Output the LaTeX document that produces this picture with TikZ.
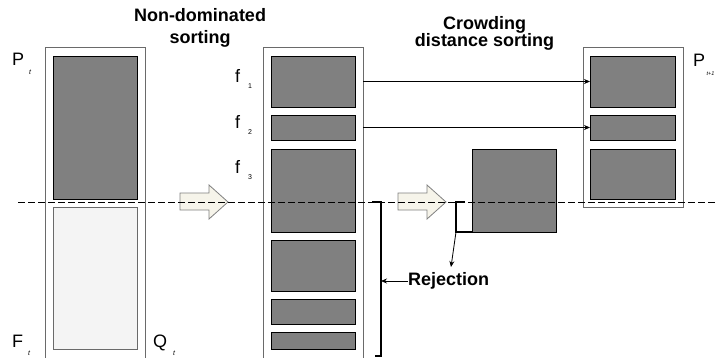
\documentclass[tikz,border=0pt]{standalone}
\usepackage{fontspec}
\setmainfont{Liberation Sans}
\usetikzlibrary{arrows.meta}
\definecolor{darkfill}{HTML}{808080}
\definecolor{lightfill}{HTML}{F4F4F4}
\definecolor{boxline}{HTML}{6A6A6A}
\definecolor{arrowfill}{HTML}{F6F4EA}
\definecolor{arrowline}{HTML}{808080}
\newcommand{\subf}[1]{{\fontsize{7}{7}\selectfont\itshape #1}}
\begin{document}
\begin{tikzpicture}[x=1pt,y=-1pt,
  rbox/.style={anchor=north west, inner sep=0pt, outer sep=0pt},
  outerbox/.style={rbox, draw=boxline, line width=0.9pt, fill=white},
  darkrect/.style={rbox, draw=black, line width=0.8pt, fill=darkfill},
  lightrect/.style={rbox, draw=boxline, line width=0.8pt, fill=lightfill},
  title/.style={font=\fontsize{18}{22}\selectfont\bfseries, align=center, inner sep=0pt},
  lbl/.style={font=\fontsize{18}{18}\selectfont, inner sep=0pt, anchor=base west},
  fat/.style={draw=arrowline, fill=arrowfill, line width=0.8pt, line join=miter},
  cut/.style={line width=0.9pt, dash pattern=on 6.5pt off 3.5pt},
  bracket/.style={line width=1.3pt},
  conn/.style={line width=0.8pt, -{Stealth[length=6pt,width=5pt]}}
]
\useasboundingbox (0,0) rectangle (715,357);
\clip (0,0) rectangle (715,357);

% left column
\node[outerbox, minimum width=100pt, minimum height=318pt] (lbox) at (45,47) {};
\node[darkrect, minimum width=84pt, minimum height=143pt] (lp) at (53,56) {};
\node[lightrect, minimum width=84pt, minimum height=142pt] (lq) at (53,207) {};

% middle column
\node[outerbox, minimum width=100pt, minimum height=318pt] (mbox) at (263,47) {};
\node[darkrect, minimum width=84pt, minimum height=51pt] (m1) at (271,56) {};
\node[darkrect, minimum width=84pt, minimum height=25pt] (m2) at (271,115) {};
\node[darkrect, minimum width=84pt, minimum height=83pt] (m3) at (271,149) {};
\node[darkrect, minimum width=84pt, minimum height=51pt] (m4) at (271,240) {};
\node[darkrect, minimum width=84pt, minimum height=25pt] (m5) at (271,299) {};
\node[darkrect, minimum width=84pt, minimum height=17pt] (m6) at (271,332) {};

% rejected front part
\node[darkrect, minimum width=84pt, minimum height=83pt] (cr) at (472,149) {};

% right column
\node[outerbox, minimum width=100pt, minimum height=160pt] (rbox) at (583,47) {};
\node[darkrect, minimum width=85pt, minimum height=51pt] (r1) at (590,56) {};
\node[darkrect, minimum width=85pt, minimum height=25pt] (r2) at (590,115) {};
\node[darkrect, minimum width=85pt, minimum height=50pt] (r3) at (590,149) {};

% fat arrows
\draw[fat] (180,193) -- (209,193) -- (209,185) -- (228,202) -- (209,219) -- (209,210) -- (180,210) -- cycle;
\draw[fat] (398,193) -- (427,193) -- (427,185) -- (446,202) -- (427,219) -- (427,210) -- (398,210) -- cycle;

% titles
\node[title, anchor=north] (t1) at (200,8) {Non-dominated\\sorting};
\node[title, anchor=north, font=\fontsize{18}{17.5}\selectfont\bfseries] (t2) at (484.5,16) {Crowding\\distance sorting};

% labels
\node[lbl] (Pt) at (12,65) {P\hspace{5pt}\raisebox{-9pt}{\subf{t}}};
\node[lbl] (Ft) at (12,347) {F\hspace{5pt}\raisebox{-8pt}{\subf{t}}};
\node[lbl] (Qt) at (153,347) {Q\hspace{6pt}\raisebox{-8pt}{\subf{t}}};
\node[lbl] (f1) at (235,82) {f\hspace{8pt}\raisebox{-6pt}{\fontsize{7}{7}\selectfont 1}};
\node[lbl] (f2) at (235,128) {f\hspace{8pt}\raisebox{-6pt}{\fontsize{7}{7}\selectfont 2}};
\node[lbl] (f3) at (235,173) {f\hspace{8pt}\raisebox{-6pt}{\fontsize{7}{7}\selectfont 3}};
\node[lbl] (Pt1) at (693,66) {P\hspace{1.5pt}\raisebox{-9pt}{{\fontsize{5.5}{6}\selectfont\itshape t+1}}};

% connectors to next population
\draw[conn] (m1.east -| mbox.east) -- (r1.west);
\draw[conn] (m2.east -| mbox.east) -- (r2.west);

% rejection brackets
\coordinate (b1a) at (372,202);
\coordinate (b1b) at (381,202);
\coordinate (b1c) at (381,356);
\coordinate (b1d) at (375,356);
\draw[bracket] (b1a) -- (b1b) -- (b1c) -- (b1d);
\coordinate (b2a) at (465,202);
\coordinate (b2b) at (456,202);
\coordinate (b2c) at (456,232);
\draw[bracket] (b2a) -- (b2b) -- (b2c) -- (cr.south west);

\node[font=\fontsize{18}{18}\selectfont\bfseries, inner sep=0pt, anchor=west] (rej) at (408,281) {Rejection};
\draw[conn] (rej.west) -- (rej.west -| b1b);
\coordinate (rejtip) at (451,267);
\draw[conn] (b2c) -- (rejtip);

% cut line
\coordinate (cutL) at (18,202);
\coordinate (cutR) at (715,202);
\draw[cut] (cutL) -- (cutR);
\end{tikzpicture}
\end{document}
